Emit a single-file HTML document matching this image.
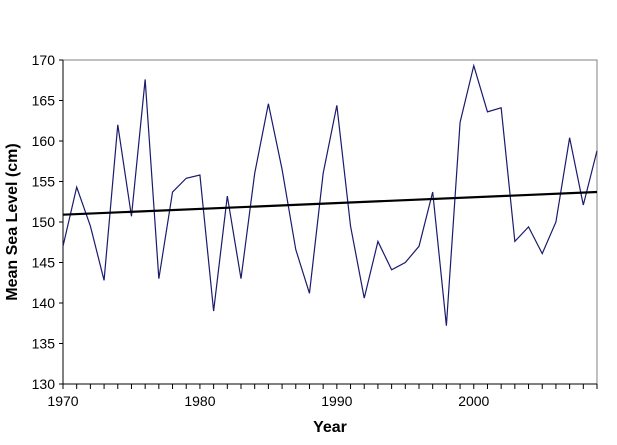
<!DOCTYPE html>
<html><head><meta charset="utf-8"><style>
body{margin:0;background:#fff;}
svg text{font-family:"Liberation Sans",Arial,sans-serif;}
</style></head><body>
<svg width="617" height="440" viewBox="0 0 617 440">
<g id="axes"></g>
<g id="marks"></g>
</svg>
<script>
const years=[1970,1971,1972,1973,1974,1975,1976,1977,1978,1979,1980,1981,1982,1983,1984,1985,1986,1987,1988,1989,1990,1991,1992,1993,1994,1995,1996,1997,1998,1999,2000,2001,2002,2003,2004,2005,2006,2007,2008,2009];
const levels=[147,154.3,149.5,142.8,162,150.7,167.6,143,153.7,155.4,155.8,139,153.2,143,156,164.6,156.5,146.6,141.2,156,164.4,149.5,140.6,147.6,144.1,145,147,153.7,137.2,162.3,169.3,163.6,164.1,147.6,149.4,146.1,150,160.4,152.1,158.8];
const trendStart=150.9, trendEnd=153.7;
const yTicks=[130,135,140,145,150,155,160,165,170];
const xTicks=[1970,1980,1990,2000];
const L=63,R=597,T=60,B=384;
const xs=y=>L+(y-1970)/(2009-1970)*(R-L);
const ys=v=>B-(v-130)/(170-130)*(B-T);
const NS="http://www.w3.org/2000/svg";
const axes=document.getElementById('axes'),marks=document.getElementById('marks');
function mk(p,tag,a){const e=document.createElementNS(NS,tag);for(const k in a)e.setAttribute(k,a[k]);p.appendChild(e);return e;}
const frame=mk(axes,'rect',{x:L,y:T,width:R-L,height:B-T,fill:'none',stroke:'#808080','stroke-width':1});


const yl=mk(axes,'line',{x1:L,y1:T,x2:L,y2:B,stroke:'#000'});


const xl=mk(axes,'line',{x1:L,y1:B,x2:R,y2:B,stroke:'#000'});


yTicks.forEach(v=>{
  mk(axes,'line',{x1:L-4,y1:ys(v),x2:L,y2:ys(v),stroke:'#000'});
  const t=mk(axes,'text',{x:L-8,y:ys(v)+5,'text-anchor':'end','font-size':14});
  t.textContent=v;
  
  
});
years.forEach(y=>{mk(axes,'line',{x1:xs(y),y1:B,x2:xs(y),y2:B+5,stroke:'#000'});});
xTicks.forEach(y=>{
  const t=mk(axes,'text',{x:xs(y),y:B+22,'text-anchor':'middle','font-size':14});
  t.textContent=y;
  
  
});
const xt=mk(axes,'text',{x:330,y:432,'text-anchor':'middle','font-size':16,'font-weight':'bold'});
xt.textContent='Year';


const yt=mk(axes,'text',{x:0,y:0,'text-anchor':'middle','font-size':16,'font-weight':'bold',transform:'translate(17,222) rotate(-90)'});
yt.textContent='Mean Sea Level (cm)';


const pl=mk(marks,'polyline',{points:years.map((y,i)=>xs(y)+','+ys(levels[i])).join(' '),fill:'none',stroke:'#1a1a6e','stroke-width':1.2});


const tl=mk(marks,'line',{x1:xs(years[0]),y1:ys(trendStart),x2:xs(years[years.length-1]),y2:ys(trendEnd),stroke:'#000','stroke-width':2.2});


</script>
</body></html>
